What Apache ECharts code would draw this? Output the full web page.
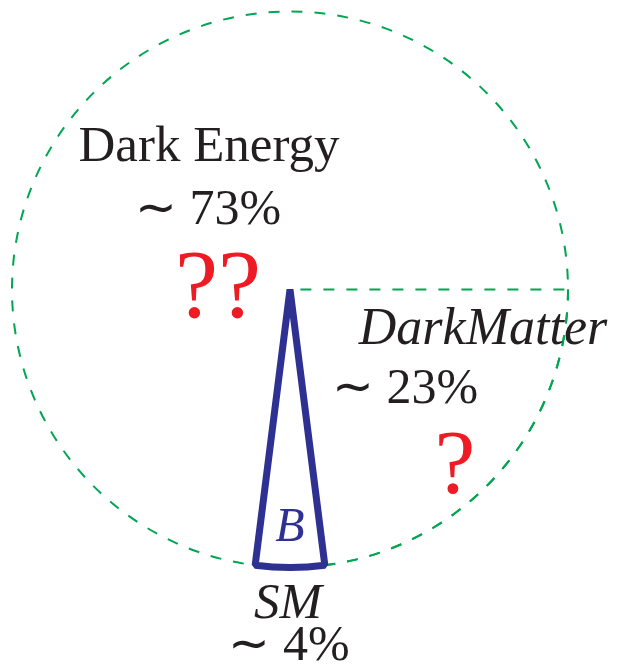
<!DOCTYPE html>
<html>
<head>
<meta charset="utf-8">
<script src="https://cdn.jsdelivr.net/npm/echarts@6/dist/echarts.min.js"></script>
<style>html,body{margin:0;padding:0;background:#fff;}#c{width:619px;height:667px;}</style>
</head>
<body>
<div id="c"></div>
<script>
// Data
const categories = ['DarkMatter', 'SM', 'Dark Energy'];
const values = [23, 4, 73];
const questionMarks = ['?', '', '??'];
const innerLabel = ['', 'B', ''];

const GREEN = '#00a651';
const BLUE = '#2e3192';
const RED = '#ed1c24';
const TEXT = '#231f20';
const CENTER = [290, 289.5];
const R = 278;
const FONT = '"Liberation Serif", "Times New Roman", serif';

const chart = echarts.init(document.getElementById('c'), null, {renderer: 'canvas'});

const total = values.reduce((a, b) => a + b, 0);
const dash = [11, 12];
const sliceStyles = [
  {color: 'transparent', borderColor: GREEN, borderWidth: 2, borderType: dash},
  {color: 'transparent', borderColor: BLUE, borderWidth: 7, borderJoin: 'bevel'},
  {color: 'transparent', borderWidth: 0}
];

function txt(text, x, y, size, opts) {
  opts = opts || {};
  return {
    type: 'text', x: x, y: y, z: 10, silent: true,
    style: {
      text: text, fill: opts.color || TEXT,
      font: (opts.italic ? 'italic ' : '') + size + 'px ' + FONT,
      align: 'center', verticalAlign: 'middle'
    }
  };
}

const pct = v => '\u223C ' + v + '%';

chart.setOption({
  backgroundColor: '#fff',
  animation: false,
  series: [
    {
      type: 'pie', silent: true, center: CENTER, radius: R, startAngle: 0, clockwise: true,
      label: {show: false}, labelLine: {show: false}, z: 1,
      data: [{name: 'circle', value: total,
        itemStyle: {color: 'transparent', borderColor: GREEN, borderWidth: 2, borderType: dash}}]
    },
    {
      type: 'pie', silent: true, center: CENTER, radius: R, startAngle: 0, clockwise: true,
      label: {show: false}, labelLine: {show: false}, z: 2,
      data: categories.map((c, i) => ({name: c, value: values[i], itemStyle: sliceStyles[i]}))
    }
  ],
  graphic: [
    txt(categories[2], 209, 148, 51),
    txt(pct(values[2]), 208, 211, 50),
    txt(questionMarks[2], 218, 292, 97, {color: RED}),
    txt(categories[0], 483, 330, 52, {italic: true}),
    txt(pct(values[0]), 405, 390, 50),
    txt(questionMarks[0], 455, 469, 92, {color: RED}),
    txt(innerLabel[1], 290, 528, 48, {italic: true, color: BLUE}),
    txt(categories[1], 288, 605, 51, {italic: true}),
    txt(pct(values[1]), 289, 647, 50)
  ]
});
</script>
</body>
</html>
